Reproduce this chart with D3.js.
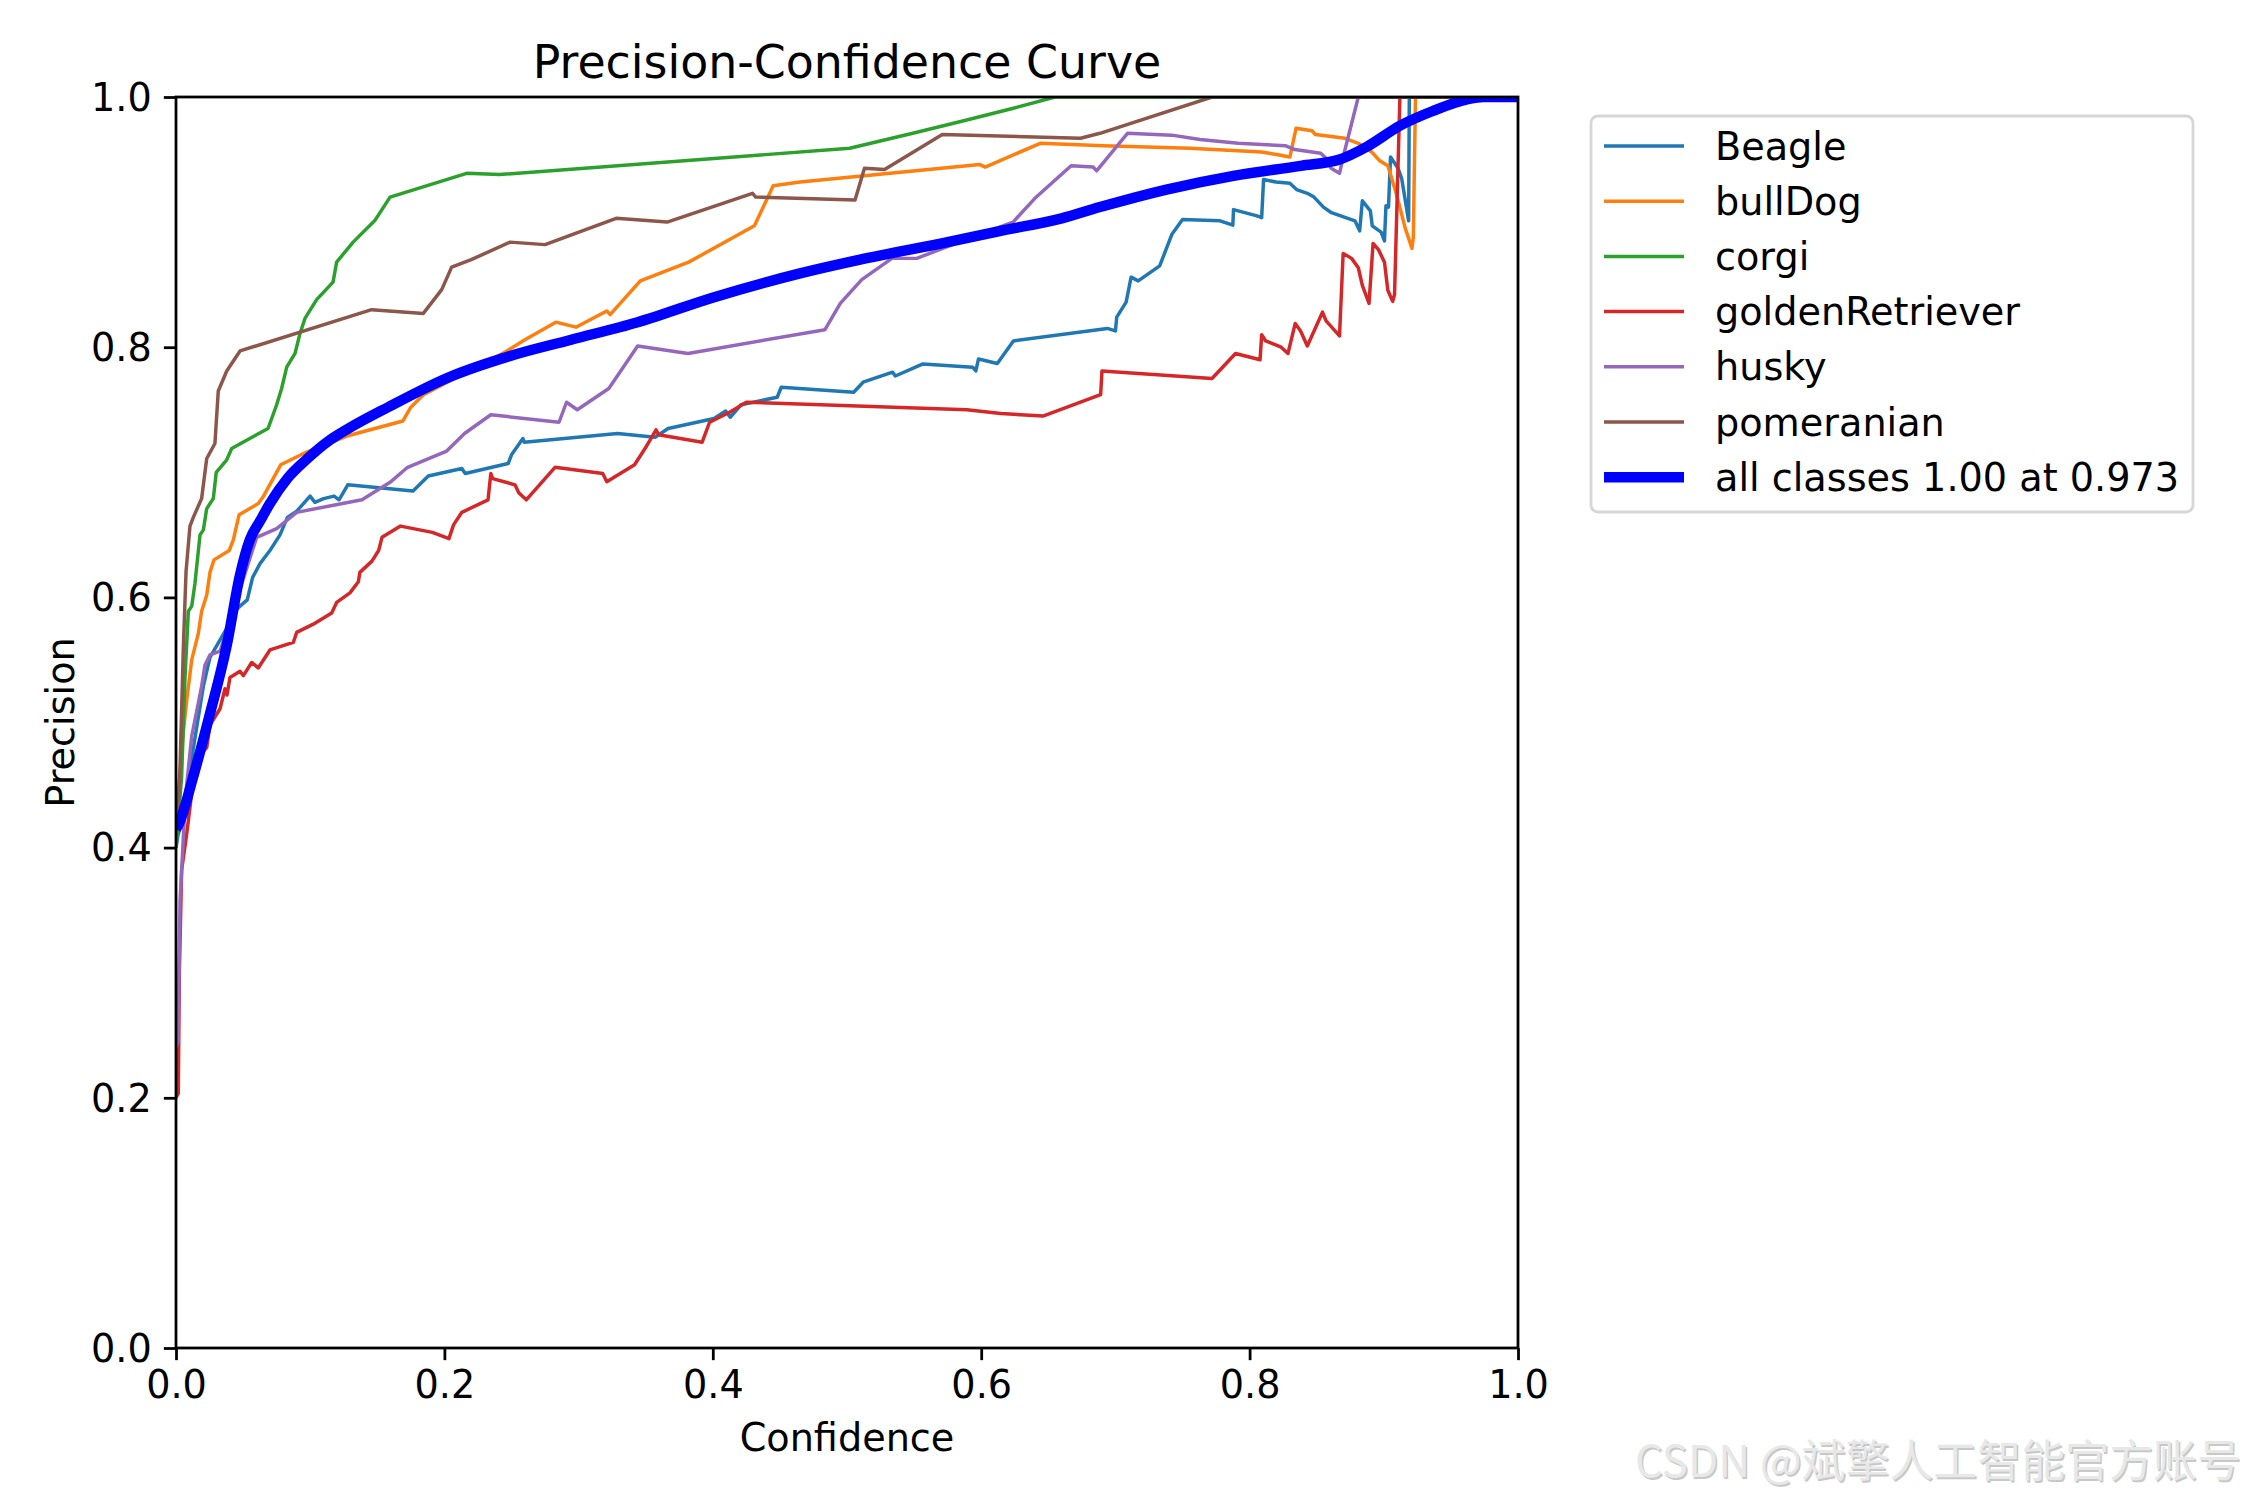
<!DOCTYPE html>
<html>
<head>
<meta charset="utf-8">
<script src="https://cdn.jsdelivr.net/npm/d3@7"></script>
<style>
  html, body { margin: 0; padding: 0; background: #fff; }
  svg { display: block; }
  text { font-family: "DejaVu Sans", sans-serif; }
</style>
</head>
<body>
<svg id="chart" width="2250" height="1500"></svg>
<script>
// ---------------- DATA ----------------
const classNames = ["Beagle", "bullDog", "corgi", "goldenRetriever", "husky", "pomeranian"];
const classColors = ["#1f77b4", "#ff7f0e", "#2ca02c", "#d62728", "#9467bd", "#8c564b"];
const xTicks = [0.0, 0.2, 0.4, 0.6, 0.8, 1.0];
const yTicks = [0.0, 0.2, 0.4, 0.6, 0.8, 1.0];
const allLabel = "all classes 1.00 at 0.973";

const beagle = [[0,0.40],[0.0015,0.41],[0.0067,0.429],[0.013,0.48],[0.0204,0.529],[0.0253,0.552],[0.0377,0.575],[0.0427,0.5875],[0.0477,0.593],[0.0531,0.598],[0.0571,0.616],[0.0626,0.627],[0.070,0.6375],[0.0775,0.650],[0.083,0.664],[0.090,0.669],[0.0999,0.681],[0.1035,0.676],[0.110,0.679],[0.1178,0.681],[0.1215,0.678],[0.128,0.690],[0.1766,0.685],[0.188,0.697],[0.213,0.703],[0.2155,0.699],[0.2475,0.707],[0.250,0.714],[0.2585,0.727],[0.2595,0.724],[0.329,0.731],[0.357,0.728],[0.3667,0.735],[0.401,0.743],[0.4096,0.749],[0.413,0.744],[0.421,0.754],[0.448,0.760],[0.451,0.768],[0.505,0.764],[0.512,0.772],[0.534,0.780],[0.536,0.777],[0.5566,0.7866],[0.5936,0.784],[0.596,0.781],[0.598,0.7906],[0.612,0.787],[0.624,0.805],[0.694,0.815],[0.700,0.813],[0.701,0.824],[0.708,0.836],[0.7117,0.856],[0.717,0.853],[0.733,0.865],[0.742,0.890],[0.750,0.902],[0.778,0.901],[0.7875,0.8975],[0.788,0.910],[0.8055,0.905],[0.809,0.9035],[0.8104,0.934],[0.8197,0.932],[0.830,0.931],[0.835,0.926],[0.843,0.923],[0.848,0.920],[0.855,0.912],[0.861,0.9075],[0.8785,0.901],[0.882,0.893],[0.884,0.917],[0.890,0.909],[0.8914,0.897],[0.898,0.892],[0.9005,0.885],[0.9016,0.913],[0.9035,0.912],[0.905,0.952],[0.9106,0.943],[0.9133,0.935],[0.9185,0.901],[0.919,1.0],[1.0,1.0]];

const bullDog = [[0,0.42],[0.0015,0.44],[0.0055,0.493],[0.008,0.518],[0.0117,0.550],[0.0166,0.571],[0.0191,0.589],[0.0229,0.602],[0.0253,0.620],[0.0283,0.630],[0.0397,0.6375],[0.0427,0.646],[0.047,0.666],[0.0613,0.675],[0.0647,0.680],[0.078,0.706],[0.097,0.716],[0.1274,0.729],[0.169,0.741],[0.175,0.752],[0.1844,0.762],[0.245,0.796],[0.26,0.806],[0.283,0.820],[0.298,0.816],[0.321,0.829],[0.3235,0.826],[0.346,0.853],[0.382,0.868],[0.431,0.897],[0.445,0.929],[0.465,0.932],[0.599,0.946],[0.603,0.944],[0.644,0.963],[0.691,0.961],[0.7556,0.959],[0.809,0.956],[0.820,0.954],[0.830,0.952],[0.8346,0.975],[0.8465,0.973],[0.849,0.970],[0.871,0.967],[0.881,0.963],[0.891,0.956],[0.897,0.949],[0.903,0.945],[0.9095,0.922],[0.916,0.895],[0.921,0.879],[0.922,0.888],[0.9236,1.0],[1.0,1.0]];

const corgi = [[0,0.40],[0.0015,0.42],[0.0042,0.457],[0.0067,0.536],[0.0092,0.589],[0.0117,0.593],[0.0141,0.611],[0.0179,0.650],[0.0204,0.654],[0.0229,0.671],[0.0278,0.679],[0.030,0.700],[0.0378,0.710],[0.0415,0.719],[0.060,0.730],[0.0686,0.735],[0.075,0.754],[0.0787,0.767],[0.0825,0.784],[0.0887,0.795],[0.0924,0.811],[0.0961,0.823],[0.1048,0.838],[0.117,0.852],[0.1197,0.868],[0.132,0.884],[0.148,0.901],[0.1595,0.920],[0.2166,0.939],[0.241,0.938],[0.502,0.959],[0.549,0.971],[0.587,0.981],[0.624,0.991],[0.655,1.0],[1.0,1.0]];

const goldenRetriever = [[0,0.20],[0.0017,0.2036],[0.0025,0.30],[0.0042,0.382],[0.0080,0.411],[0.0129,0.454],[0.0154,0.457],[0.0191,0.475],[0.0229,0.480],[0.0253,0.498],[0.0328,0.511],[0.0365,0.527],[0.038,0.522],[0.0402,0.536],[0.0477,0.541],[0.0502,0.5375],[0.0564,0.548],[0.0613,0.5436],[0.070,0.558],[0.0874,0.564],[0.0899,0.572],[0.1023,0.5786],[0.116,0.5875],[0.1197,0.596],[0.1296,0.6036],[0.1359,0.6125],[0.137,0.620],[0.146,0.629],[0.151,0.6375],[0.1535,0.648],[0.1673,0.657],[0.191,0.652],[0.2034,0.647],[0.2068,0.658],[0.213,0.668],[0.2325,0.678],[0.2346,0.699],[0.236,0.695],[0.2526,0.690],[0.2554,0.6836],[0.261,0.678],[0.2824,0.704],[0.318,0.699],[0.321,0.6925],[0.3417,0.706],[0.3495,0.719],[0.3577,0.734],[0.3596,0.730],[0.392,0.724],[0.3976,0.740],[0.4125,0.748],[0.425,0.756],[0.5894,0.750],[0.6146,0.747],[0.646,0.745],[0.689,0.762],[0.690,0.781],[0.772,0.775],[0.7895,0.795],[0.8078,0.790],[0.809,0.810],[0.812,0.805],[0.8235,0.800],[0.8286,0.795],[0.834,0.819],[0.838,0.813],[0.843,0.801],[0.8543,0.828],[0.857,0.821],[0.867,0.809],[0.8697,0.875],[0.876,0.871],[0.881,0.8635],[0.884,0.8495],[0.889,0.835],[0.892,0.883],[0.896,0.878],[0.9005,0.868],[0.903,0.8455],[0.9066,0.8366],[0.908,0.842],[0.912,1.0],[1.0,1.0]];

const husky = [[0,0.24],[0.0015,0.245],[0.003,0.357],[0.007,0.44],[0.0117,0.489],[0.0191,0.529],[0.0216,0.546],[0.0253,0.554],[0.0328,0.557],[0.0601,0.648],[0.0750,0.655],[0.0899,0.668],[0.1386,0.678],[0.1595,0.692],[0.1726,0.704],[0.2017,0.717],[0.215,0.731],[0.2346,0.746],[0.2854,0.740],[0.291,0.756],[0.299,0.750],[0.3225,0.767],[0.332,0.782],[0.344,0.801],[0.3815,0.795],[0.4836,0.814],[0.495,0.835],[0.511,0.854],[0.5335,0.871],[0.552,0.871],[0.5835,0.884],[0.6237,0.900],[0.640,0.919],[0.667,0.945],[0.6834,0.944],[0.686,0.941],[0.709,0.971],[0.742,0.9695],[0.763,0.966],[0.7915,0.963],[0.827,0.961],[0.8337,0.958],[0.853,0.955],[0.857,0.951],[0.8607,0.943],[0.867,0.939],[0.8697,0.952],[0.881,1.0],[1.0,1.0]];

const pomeranian = [[0,0.42],[0.0015,0.43],[0.0030,0.464],[0.0055,0.561],[0.0075,0.621],[0.0104,0.657],[0.0129,0.664],[0.0191,0.679],[0.0229,0.711],[0.029,0.723],[0.0315,0.765],[0.0378,0.781],[0.0477,0.797],[0.1458,0.830],[0.1843,0.827],[0.198,0.846],[0.2054,0.864],[0.22,0.870],[0.249,0.884],[0.275,0.882],[0.328,0.903],[0.366,0.900],[0.4296,0.923],[0.432,0.920],[0.506,0.9176],[0.513,0.943],[0.528,0.942],[0.571,0.970],[0.674,0.967],[0.6885,0.971],[0.772,1.0],[1.0,1.0]];

const allClasses = [[0,0.415],[0.0017,0.418],[0.0129,0.457],[0.0253,0.507],[0.0377,0.561],[0.0477,0.618],[0.055,0.646],[0.0626,0.661],[0.070,0.675],[0.083,0.695],[0.097,0.710],[0.115,0.726],[0.127,0.734],[0.158,0.752],[0.2034,0.776],[0.249,0.793],[0.2945,0.806],[0.344,0.820],[0.401,0.840],[0.465,0.859],[0.5097,0.870],[0.575,0.884],[0.6146,0.893],[0.660,0.903],[0.6885,0.912],[0.738,0.926],[0.788,0.937],[0.838,0.945],[0.867,0.950],[0.887,0.960],[0.912,0.977],[0.937,0.989],[0.962,0.998],[0.974,1.0],[1.0,1.0]];

const classSeries = [beagle, bullDog, corgi, goldenRetriever, husky, pomeranian];

// ---------------- LAYOUT ----------------
(function () {
const W = 2250, H = 1500;
const pL = 176, pR = 1518, pT = 97, pB = 1348;
const FS = 38.2;
const LW = 3.47;
const svg = d3.select("#chart");
svg.append("rect").attr("width", W).attr("height", H).attr("fill", "#fff");

const x = d3.scaleLinear().domain([0, 1]).range([pL, pR]);
const y = d3.scaleLinear().domain([0, 1]).range([pB, pT]);

svg.append("defs").append("clipPath").attr("id", "plotclip")
  .append("rect").attr("x", pL).attr("y", pT).attr("width", pR - pL).attr("height", pB - pT);

const line = d3.line().x(d => x(d[0])).y(d => y(d[1])).curve(d3.curveLinear);
const lineSmooth = d3.line().x(d => x(d[0])).y(d => y(d[1])).curve(d3.curveMonotoneX);

const plot = svg.append("g").attr("clip-path", "url(#plotclip)");
classSeries.forEach((s, i) => {
  plot.append("path").datum(s).attr("d", line)
    .attr("fill", "none").attr("stroke", classColors[i])
    .attr("stroke-width", LW).attr("stroke-linejoin", "round");
});
plot.append("path").datum(allClasses).attr("d", lineSmooth)
  .attr("fill", "none").attr("stroke", "#0000ff")
  .attr("stroke-width", LW * 3).attr("stroke-linejoin", "round");

// axes
const xAxis = d3.axisBottom(x).tickValues(xTicks).tickFormat(d3.format(".1f"))
  .tickSize(12.15).tickPadding(12.15).tickSizeOuter(0);
const yAxis = d3.axisLeft(y).tickValues(yTicks).tickFormat(d3.format(".1f"))
  .tickSize(12.15).tickPadding(12.15).tickSizeOuter(0);

const gx = svg.append("g").attr("transform", `translate(0,${pB})`).call(xAxis);
const gy = svg.append("g").attr("transform", `translate(${pL},0)`).call(yAxis);
[gx, gy].forEach(g => {
  g.select(".domain").remove();
  g.selectAll(".tick line").attr("stroke", "#000").attr("stroke-width", 2.78);
  g.selectAll(".tick text").attr("fill", "#000")
    .style("font-family", "DejaVu Sans").style("font-size", FS + "px");
});
gx.selectAll(".tick text").attr("dy", "0.68em");
gy.selectAll(".tick text").attr("dy", "0.35em");

// spines
svg.append("rect").attr("x", pL).attr("y", pT).attr("width", pR - pL).attr("height", pB - pT)
  .attr("fill", "none").attr("stroke", "#000").attr("stroke-width", 2.78);

// title & labels
svg.append("text").attr("x", (pL + pR) / 2).attr("y", 78).attr("text-anchor", "middle")
  .style("font-size", (FS * 1.2) + "px").text("Precision-Confidence Curve");
svg.append("text").attr("x", (pL + pR) / 2).attr("y", 1451).attr("text-anchor", "middle")
  .style("font-size", FS + "px").text("Confidence");
svg.append("text").attr("transform", `translate(74,${(pT + pB) / 2}) rotate(-90)`)
  .attr("text-anchor", "middle").style("font-size", FS + "px").text("Precision");

// legend
const lg = svg.append("g");
lg.append("rect").attr("x", 1591).attr("y", 116).attr("width", 602).attr("height", 396)
  .attr("rx", 7).attr("ry", 7).attr("fill", "#fff").attr("fill-opacity", 0.8)
  .attr("stroke", "#d6d6d6").attr("stroke-width", 2.78);
const legendItems = classNames.map((n, i) => ({ name: n, color: classColors[i], w: LW }))
  .concat([{ name: allLabel, color: "#0000ff", w: LW * 3 }]);
legendItems.forEach((it, i) => {
  const ly = 146 + i * 55.2;
  lg.append("line").attr("x1", 1604).attr("x2", 1684).attr("y1", ly).attr("y2", ly)
    .attr("stroke", it.color).attr("stroke-width", it.w);
  lg.append("text").attr("x", 1715).attr("y", ly + 13.5)
    .style("font-size", FS + "px").attr("fill", "#000").text(it.name);
});

// watermark
const wm = "CSDN @斌擎人工智能官方账号";
svg.append("text").attr("x", 1636.5).attr("y", 1478.5).attr("textLength", 606).attr("lengthAdjust", "spacingAndGlyphs")
  .style("font-family", "'Noto Sans CJK SC', sans-serif").style("font-size", "44px")
  .attr("fill", "#c8c8c8").text(wm);
svg.append("text").attr("x", 1635).attr("y", 1477).attr("textLength", 606).attr("lengthAdjust", "spacingAndGlyphs")
  .style("font-family", "'Noto Sans CJK SC', sans-serif").style("font-size", "44px")
  .attr("fill", "#e8e8e8").text(wm);
})();
</script>
</body>
</html>
